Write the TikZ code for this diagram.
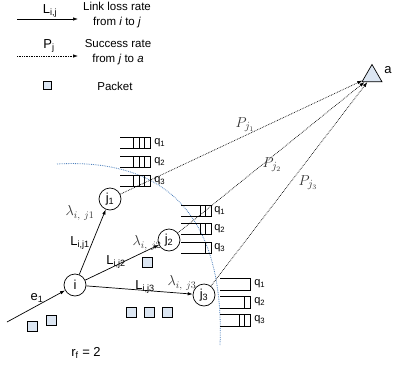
\documentclass[tikz,border=0pt]{standalone}
\usepackage{fontspec}
\setmainfont{Liberation Sans}
\usetikzlibrary{arrows.meta,shapes.geometric}
\definecolor{pktfill}{HTML}{DCE6F2}
\definecolor{rangeblue}{HTML}{4F81BD}
\definecolor{lblgray}{HTML}{333333}
\newcommand{\fs}[1]{\fontsize{#1}{#1}\selectfont}
% queue buffer: left x, top y, height, number of packets
\newcommand{\qbuf}[4]{%
  \draw (#1,#2) -- ++(30,0) -- ++(0,#3) -- ++(-30,0);
  \ifnum#4>0 \foreach \k in {1,...,#4} {\draw (#1+30-5.5*\k,#2) -- ++(0,#3);}\fi
}
\begin{document}
\begin{tikzpicture}[x=1pt,y=-1pt,line width=0.7pt,
  vtx/.style={circle, draw, inner sep=0pt, minimum size=22pt, font=\fs{13}},
  pkt/.style={draw, fill=pktfill, inner sep=0pt, minimum size=10pt, line width=0.6pt},
  link/.style={-{Latex[length=5pt,width=3.5pt]}},
  succ/.style={densely dotted, -{Latex[length=5pt,width=3.5pt]}},
  lbl/.style={font=\fs{13}, inner sep=1pt},
  rate/.style={font=\fs{14}, text=lblgray, inner sep=1pt},
  pjlbl/.style={font=\fs{15}, text=lblgray, inner sep=1pt},
  qlbl/.style={font=\fs{11}, anchor=west, inner sep=0pt},
  legtxt/.style={font=\fontsize{11.5}{15}\selectfont, align=center, inner sep=0pt}]
\useasboundingbox (0,0) rectangle (393,367);

% legend
\coordinate (lossA) at (17,19);
\coordinate (lossB) at (78,19);
\draw[link] (lossA) -- (lossB);
\node[lbl] (lossL) at (50,11) {L\textsubscript{i,j}};
\node[legtxt] (lossT) at (117,15.5) {Link loss rate\\from \textit{i} to \textit{j}};
\coordinate (succA) at (17,56);
\coordinate (succB) at (78,56);
\draw[succ] (succA) -- (succB);
\node[lbl] (succL) at (49,46) {P\textsubscript{j}};
\node[legtxt] (succT) at (118,52) {Success rate\\from \textit{j} to \textit{a}};
\node[pkt, minimum size=8pt] (legpkt) at (47,85) {};
\node[legtxt] (pktT) at (115,86) {Packet};

% transmission range
\draw[rangeblue, densely dotted, line width=0.8pt] (57,164) .. controls (165,158) and (225,215) .. (220,345);

% nodes
\node[vtx] (i) at (75,285) {i};
\node[vtx] (j1) at (110,199) {j\textsubscript{1}};
\node[vtx] (j2) at (169,240) {j\textsubscript{2}};
\node[vtx] (j3) at (204,295) {j\textsubscript{3}};
\node[regular polygon, regular polygon sides=3, draw, fill=pktfill, inner sep=0pt, minimum size=23pt] (a) at (372,76) {};
\node[font=\fs{13}, anchor=west, inner sep=0pt] (aL) at (384,70) {a};

% queues
\qbuf{120}{137}{11}{3}
\qbuf{120}{156}{11}{3}
\qbuf{120}{175}{11}{3}
\node[qlbl] (q11) at (154,143) {q\textsubscript{1}};
\node[qlbl] (q12) at (154,162) {q\textsubscript{2}};
\node[qlbl] (q13) at (154,181) {q\textsubscript{3}};
\qbuf{181}{205}{11}{2}
\qbuf{181}{223}{11}{2}
\qbuf{181}{242}{11}{1}
\node[qlbl] (q21) at (214,211) {q\textsubscript{1}};
\node[qlbl] (q22) at (214,229) {q\textsubscript{2}};
\node[qlbl] (q23) at (214,248) {q\textsubscript{3}};
\qbuf{220}{278}{12}{0}
\qbuf{220}{296}{12}{1}
\qbuf{220}{314}{12}{2}
\node[qlbl] (q31) at (254,284) {q\textsubscript{1}};
\node[qlbl] (q32) at (254,302) {q\textsubscript{2}};
\node[qlbl] (q33) at (254,320) {q\textsubscript{3}};

% links
\coordinate (src) at (7,322);
\draw[link] (src) -- (i);
\draw[link] (i) -- (j1);
\draw[link] (i) -- (j2);
\draw[link] (i) -- (j3);
\draw[succ] (j1) -- (a);
\draw[succ] (j2) -- (a);
\draw[succ] (j3) -- (a);

% labels
\node[lbl] (e1) at (37,298) {e\textsubscript{1}};
\node[lbl] (Lj1) at (80,243) {L\textsubscript{i,j1}};
\node[lbl] (Lj2) at (116,262) {L\textsubscript{i,j2}};
\node[lbl] (Lj3) at (145,287) {L\textsubscript{i,j3}};
\node[rate] (lam1) at (80,213) {$\lambda_{i,\ j1}$};
\node[rate] (lam2) at (147,243) {$\lambda_{i,\ j2}$};
\node[rate] (lam3) at (182,283) {$\lambda_{i,\ j3}$};
\node[pjlbl] (P1) at (245,125) {$P_{j_1}$};
\node[pjlbl] (P2) at (272,165) {$P_{j_2}$};
\node[pjlbl] (P3) at (308,183) {$P_{j_3}$};
\node[lbl] (rf) at (86,353) {r\textsubscript{f} = 2};

% packets
\node[pkt] (p1) at (32,326) {};
\node[pkt] (p2) at (51,320) {};
\node[pkt] (p3) at (147,262) {};
\node[pkt] (p4) at (131,312) {};
\node[pkt] (p5) at (149,312) {};
\node[pkt] (p6) at (167,312) {};
\end{tikzpicture}
\end{document}
